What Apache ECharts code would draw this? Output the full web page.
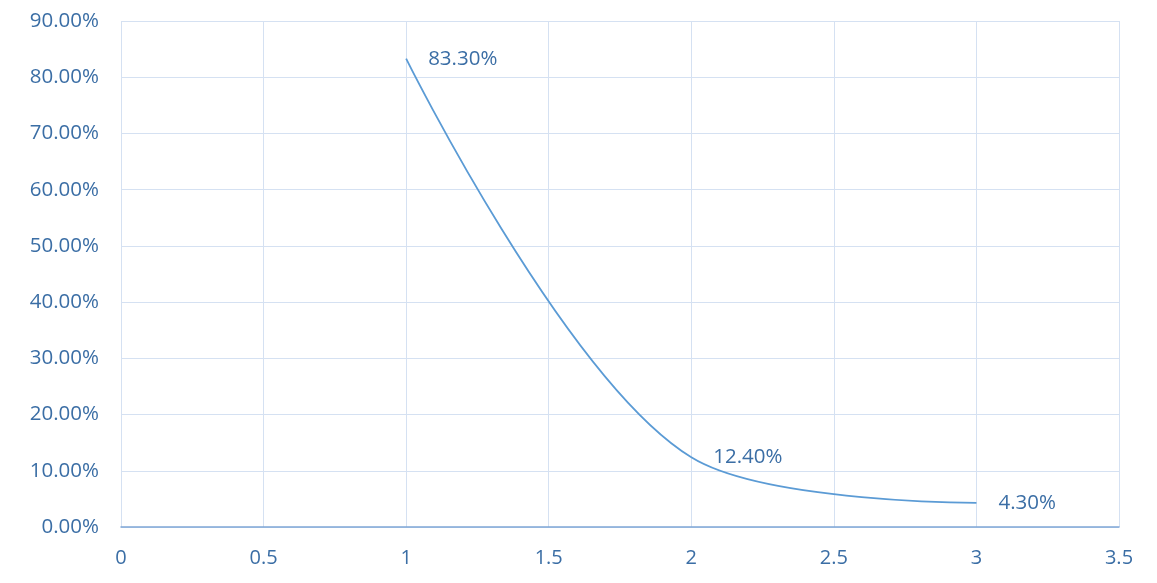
<!DOCTYPE html>
<html>
<head>
<meta charset="utf-8">
<script src="https://cdn.jsdelivr.net/npm/echarts@6/dist/echarts.min.js"></script>
<style>html,body{margin:0;padding:0;background:#fff}#c{width:1157px;height:583px}</style>
</head>
<body>
<div id="c"></div>
<script>
const xValues = [1, 2, 3];
const yValues = [0.833, 0.124, 0.043];
const xTicks = [0, 0.5, 1, 1.5, 2, 2.5, 3, 3.5];

const chart = echarts.init(document.getElementById('c'));
const labelColor = '#3b6ea5';
const font = '"Open Sans", "Liberation Sans", sans-serif';
chart.setOption({
  animation: false,
  grid: {left: 121, right: 38, top: 21, bottom: 56},
  xAxis: {
    type: 'value', min: 0, max: 3.5, interval: 0.5,
    axisLine: {show: true, lineStyle: {color: '#7fa6d6', width: 1.5}},
    axisTick: {show: false},
    axisLabel: {color: labelColor, fontSize: 20, fontFamily: font, margin: 21},
    splitLine: {show: true, lineStyle: {color: '#d5e1f2', width: 1}}
  },
  yAxis: {
    type: 'value', min: 0, max: 0.9, interval: 0.1,
    axisLine: {show: false},
    axisTick: {show: false},
    axisLabel: {color: labelColor, fontSize: 20.5, fontFamily: font, margin: 22,
      formatter: v => (v * 100).toFixed(2) + '%'},
    splitLine: {show: true, lineStyle: {color: '#d5e1f2', width: 1}}
  },
  series: [{
    type: 'line',
    data: xValues.map((x, i) => [x, yValues[i]]),
    smooth: 0.35,
    symbol: 'circle',
    symbolSize: 2,
    showSymbol: true,
    itemStyle: {color: 'rgba(91,155,213,0)'},
    lineStyle: {color: '#5b9bd5', width: 1.8},
    label: {
      show: true, position: 'right', distance: 21,
      color: labelColor, fontSize: 20.5, fontFamily: font,
      formatter: p => (p.value[1] * 100).toFixed(2) + '%'
    }
  }]
});
</script>
</body>
</html>
